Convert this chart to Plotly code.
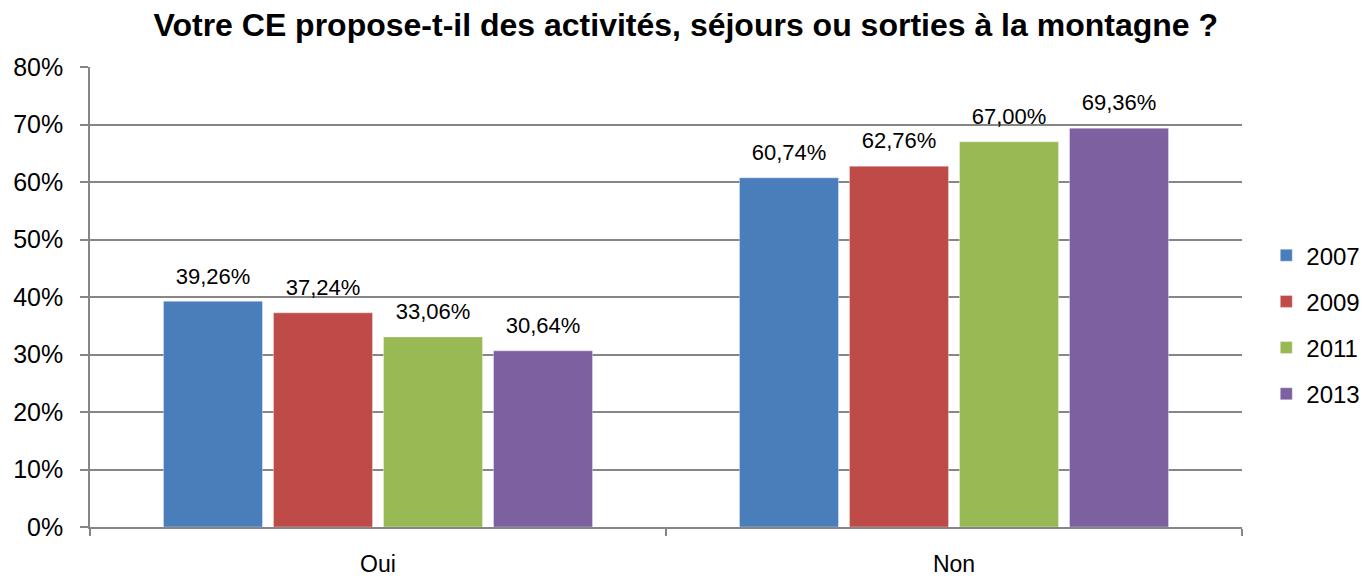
import plotly.graph_objects as go

categories = ["Oui", "Non"]
years = ["2007", "2009", "2011", "2013"]
values_2007 = [39.26, 60.74]
values_2009 = [37.24, 62.76]
values_2011 = [33.06, 67.00]
values_2013 = [30.64, 69.36]
series = [values_2007, values_2009, values_2011, values_2013]
colors = ["#4A7EBB", "#BE4B48", "#98B954", "#7D60A0"]
y_ticks = [0, 10, 20, 30, 40, 50, 60, 70, 80]

FONT = "Liberation Sans, Arial, sans-serif"
GAP = 0.236


def fr(v):
    return f"{v:.2f}".replace(".", ",") + "%"


fig = go.Figure()
for name, vals, col in zip(years, series, colors):
    fig.add_trace(go.Bar(
        x=categories, y=vals, name=name,
        offsetgroup=name, legendgroup=name,
        marker=dict(color=col, line=dict(color="rgba(255,255,255,0.35)", width=1)),
    ))
# value labels sit above each bar; an invisible marker keeps them clear of the bar top
for name, vals in zip(years, series):
    fig.add_trace(go.Scatter(
        x=categories, y=vals, offsetgroup=name, legendgroup=name,
        mode="markers+text", text=[fr(v) for v in vals], textposition="top center",
        marker=dict(size=18, opacity=0), showlegend=False, hoverinfo="skip",
        textfont=dict(family=FONT, size=22, color="#000000"), cliponaxis=False,
    ))

fig.update_layout(
    width=1366, height=579,
    margin=dict(l=90, r=124, t=67, b=52),
    paper_bgcolor="white", plot_bgcolor="white",
    barmode="group", bargap=GAP, bargroupgap=0.1,
    scattermode="group", scattergap=GAP,
    title=dict(text="<b>Votre CE propose-t-il des activités, séjours ou sorties à la montagne ?</b>",
               x=0.502, xanchor="center", y=0.957, yanchor="middle",
               font=dict(family=FONT, size=32, color="#000000")),
    font=dict(family=FONT, size=22, color="#000000"),
    showlegend=True,
    legend=dict(xref="container", x=0.927, xanchor="left",
                yref="paper", y=0.44, yanchor="middle",
                font=dict(family=FONT, size=24, color="#000000"),
                itemwidth=30, tracegroupgap=12, bgcolor="rgba(0,0,0,0)"),
)

fig.update_xaxes(
    type="category", range=[-0.5, 1.5], tickson="boundaries",
    ticks="outside", ticklen=7, tickcolor="#868686", tickwidth=1.5,
    ticklabelstandoff=16, automargin=False,
    showline=True, linecolor="#868686", linewidth=1.5,
    showgrid=False, tickfont=dict(family=FONT, size=23, color="#000000"),
)
fig.update_yaxes(
    range=[0, 80], tickvals=y_ticks, ticktext=[f"{t}%" for t in y_ticks],
    ticks="outside", ticklen=8, tickcolor="#868686", tickwidth=1.5,
    showline=True, linecolor="#868686", linewidth=1.5,
    showgrid=True, gridcolor="#868686", gridwidth=1.5, zeroline=False,
    tickfont=dict(family=FONT, size=25, color="#000000"), ticklabelstandoff=12,
    automargin=False,
)

fig.write_html("out.html")
